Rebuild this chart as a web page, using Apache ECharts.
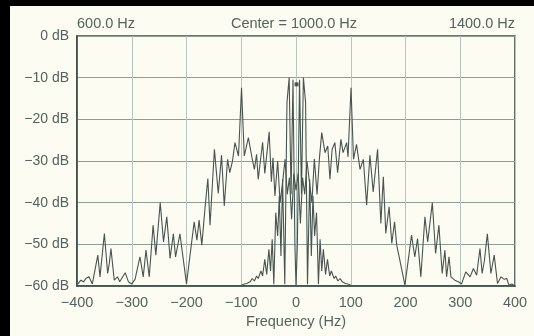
<!DOCTYPE html>
<html>
<head>
<meta charset="utf-8">
<script src="https://cdn.jsdelivr.net/npm/echarts@6/dist/echarts.min.js"></script>
<style>
  html, body { margin: 0; padding: 0; background: #fdfcf3; }
  #chart { width: 534px; height: 336px; }
</style>
</head>
<body>
<div id="chart"></div>
<script>
// wide spectrum (broad trace)
const wideFreq = [
  -398, -393, -388, -384, -378, -372, -369, -362, -358, -350, -344, -341, -338, -332, -326, -322,
  -312, -306, -300, -294, -285, -279, -274, -268, -261, -256, -248, -242, -236, -230, -224, -220,
  -212, -200, -186, -181, -177, -172, -166, -161, -157, -149, -142, -136, -131,
  -125, -121, -116, -111.5, -105, -99.5, -94.5, -87, -81, -76, -72, -69, -61, -57, -49, -45,
  -42, -38.5, -33.5, -29, -24.5, -20, -16, -12, -8, -4, 0, 4, 8, 12, 16, 20,
  24.5, 29, 33.5, 38.5, 43, 47, 53, 58, 62, 66, 71, 76, 82, 86, 92.5, 95,
  100.5, 105, 110.5, 117, 123, 129, 135, 141, 149, 155, 159.5, 164, 170, 175, 180, 184,
  199, 211, 217, 222, 228, 235.5, 240.5, 249, 255, 261, 267, 272, 275, 279.5, 283, 290,
  296.5, 302.5, 310, 318, 324, 330, 336, 340, 344, 349.5, 356, 362, 368, 374.5, 380.5, 385,
  389, 394, 398
];
const wideDb = [
  -59.5, -58.6, -59, -58.2, -57.8, -59.5, -59.4, -52.6, -57.8, -47.4, -57, -54.6, -51, -58.6, -57.8, -59,
  -56.8, -59, -59.5, -58.4, -53, -57.8, -51.4, -57.8, -45.4, -52.6, -40, -49.4, -43.4, -53.4, -47.5, -53,
  -47.5, -59.5, -44.6, -49, -44.2, -50.2, -41, -34.2, -45.4, -27.2, -37.8, -28.6, -40.8,
  -29.6, -32.8, -30, -25.6, -28.8, -12.4, -28.8, -24.4, -28.8, -32, -28.4, -34.4, -25.5, -33, -23, -35,
  -29.2, -38.4, -30, -40, -35.2, -29.6, -38, -34, -44, -33, -37, -33, -45, -34, -38, -30,
  -35, -40, -29.5, -38, -29, -23.2, -28, -26.4, -34.4, -27.2, -25.6, -32.8, -24.8, -28, -25.6, -29,
  -12.4, -29.6, -26, -32, -29.6, -40.6, -28.6, -37.4, -27.2, -45, -33.8, -47.4, -41, -49.8, -44.6, -50.2,
  -59.8, -47.8, -53, -48.6, -57.8, -43.4, -49.4, -40, -52.2, -45.4, -57, -51.4, -57.8, -53, -57.8, -58.6,
  -59, -59.5, -56.6, -57.8, -55.8, -57.4, -51, -57, -54, -47.5, -57, -52.6, -59.4, -57.8, -58.4, -58.2,
  -59.8, -59.5, -59.8
];

// narrow spectrum (centre trace)
const narrowFreq = [
  -102, -96, -90, -84, -80, -76, -72, -69, -64, -61, -57, -53.5, -49.5, -46.5, -43.5, -40.5,
  -37, -33.5, -30.5, -27.5, -24.5, -20.5, -16.5, -12.5, -9, -5.5, -2, 0, 2.5, 6.5, 10, 13.5,
  17.5, 21, 25, 28, 31, 34, 37.5, 41, 44, 47, 50, 54, 57.5, 61.5, 64.5, 69.5,
  72.5, 76.5, 80.5, 84.5, 90.5, 96.5, 102
];
const narrowDb = [
  -60, -59.6, -59.4, -59, -58.2, -58.8, -57.6, -58.2, -56.4, -57.6, -53.6, -57.2, -51.2, -56.4, -48.8, -59.6,
  -42.4, -48, -38.4, -52.8, -34.4, -59.6, -16, -10, -38, -10.5, -50, -60, -50, -10.5, -38, -10,
  -16, -59.6, -34.4, -52.8, -38.4, -48, -42.4, -59.6, -48.8, -56.4, -51.2, -57.2, -53.6, -57.6, -56.4, -58.2,
  -57.6, -58.8, -58.2, -59, -59.4, -59.6, -60
];

// centre cursor
const markerFreq = [1];
const markerDb = [-11.6];

const xTicks = [-400, -300, -200, -100, 0, 100, 200, 300, 400];
const yTicks = [0, -10, -20, -30, -40, -50, -60];

const lineColor = '#46554f';
const textColor = '#52645d';
const font = '"Liberation Sans", Arial, sans-serif';

const pairs = (xs, ys) => xs.map((x, i) => [x, ys[i]]);
const minus = v => (v < 0 ? '\u2212' + Math.abs(v) : String(v));

const chart = echarts.init(document.getElementById('chart'));

chart.setOption({
  backgroundColor: '#fdfcf3',
  animation: false,
  grid: {
    left: 77, right: 19, top: 36, bottom: 50,
    show: true, borderColor: '#3a4d45', borderWidth: 1.6,
    backgroundColor: 'transparent'
  },
  xAxis: {
    type: 'value',
    min: xTicks[0], max: xTicks[xTicks.length - 1], interval: 100,
    axisLine: { show: true, onZero: false, lineStyle: { color: '#3a4d45', width: 1.6 } },
    axisTick: { show: false },
    axisLabel: {
      margin: 9, color: textColor, fontSize: 14.5, fontFamily: font,
      formatter: v => minus(v)
    },
    splitLine: { show: true, lineStyle: { color: '#b3c6bf', width: 1 } }
  },
  yAxis: {
    type: 'value',
    min: yTicks[yTicks.length - 1], max: yTicks[0], interval: 10,
    axisLine: { show: true, onZero: false, lineStyle: { color: '#3a4d45', width: 1.6 } },
    axisTick: { show: false },
    axisLabel: {
      margin: 8, color: textColor, fontSize: 14, fontFamily: font,
      formatter: v => (v === 0 ? '0 dB' : minus(v) + ' dB')
    },
    splitLine: { show: true, lineStyle: { color: '#8aa097', width: 1 } }
  },
  series: [
    {
      type: 'line', data: pairs(wideFreq, wideDb), showSymbol: false,
      lineStyle: { color: lineColor, width: 1.1 }, z: 3
    },
    {
      type: 'line', data: pairs(narrowFreq, narrowDb), showSymbol: false,
      lineStyle: { color: lineColor, width: 1.1 }, z: 3
    },
    {
      type: 'scatter', data: pairs(markerFreq, markerDb), symbol: 'rect', symbolSize: 4,
      itemStyle: { color: '#26332e' }, z: 4
    }
  ],
  graphic: [
    { type: 'rect', shape: { x: 0, y: 0, width: 534, height: 6 }, style: { fill: '#000' } },
    { type: 'rect', shape: { x: 0, y: 0, width: 10, height: 336 }, style: { fill: '#000' } },
    {
      type: 'text', x: 77, y: 24,
      style: { text: '600.0 Hz', fill: textColor, font: '14.5px ' + font, textAlign: 'left', textVerticalAlign: 'middle' }
    },
    {
      type: 'text', x: 294, y: 24,
      style: { text: 'Center = 1000.0 Hz', fill: textColor, font: '14.5px ' + font, textAlign: 'center', textVerticalAlign: 'middle' }
    },
    {
      type: 'text', x: 515, y: 24,
      style: { text: '1400.0 Hz', fill: textColor, font: '14.5px ' + font, textAlign: 'right', textVerticalAlign: 'middle' }
    },
    {
      type: 'text', x: 296, y: 322,
      style: { text: 'Frequency (Hz)', fill: textColor, font: '14.5px ' + font, textAlign: 'center', textVerticalAlign: 'middle' }
    }
  ]
});
</script>
</body>
</html>
